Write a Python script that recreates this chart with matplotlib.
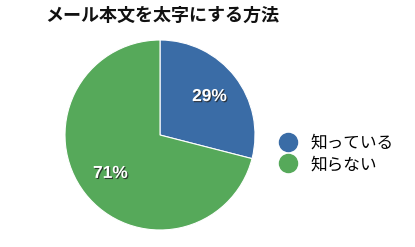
import matplotlib
matplotlib.use('Agg')
import matplotlib.pyplot as plt
import matplotlib.patheffects as pe
from matplotlib.lines import Line2D

plt.rcParams['font.family'] = ['Noto Sans CJK JP', 'DejaVu Sans']

title = 'メール本文を太字にする方法'
labels = ['知っている', '知らない']
values = [29, 71]
colors = ['#3a6ca6', '#56a95a']

fig = plt.figure(figsize=(4.15, 2.47), dpi=100)
ax = fig.add_axes([65 / 415, 17 / 247, 190 / 415, 190 / 247])

wedges, texts, autotexts = ax.pie(
    values, colors=colors, startangle=90, counterclock=False,
    autopct='%d%%', pctdistance=0.66, radius=1.0,
    wedgeprops=dict(linewidth=0.8, edgecolor='white'))
for t in autotexts:
    t.set_color('white')
    t.set_fontsize(12.5)
    t.set_fontweight('bold')
    t.set_family(['Liberation Sans'])
    t.set_path_effects([pe.withSimplePatchShadow(offset=(0.8, -0.8), shadow_rgbFace='#222222', alpha=0.8)])
ax.set_xlim(-1, 1)
ax.set_ylim(-1, 1)
ax.set_aspect('equal')

fig.text(45 / 415, 1 - 15 / 247, title, fontsize=13, fontweight='bold',
         ha='left', va='center', color='#111111')

handles = [Line2D([], [], marker='o', linestyle='none', markersize=13,
                  markerfacecolor=c, markeredgecolor=c) for c in colors]
fig.legend(handles, labels, loc='center left', bbox_to_anchor=(265 / 415, 1 - 154 / 247),
           frameon=False, fontsize=12, handletextpad=0.8, labelspacing=0.25,
           handlelength=1.0)

fig.savefig('out.png', dpi=100, facecolor='white')
